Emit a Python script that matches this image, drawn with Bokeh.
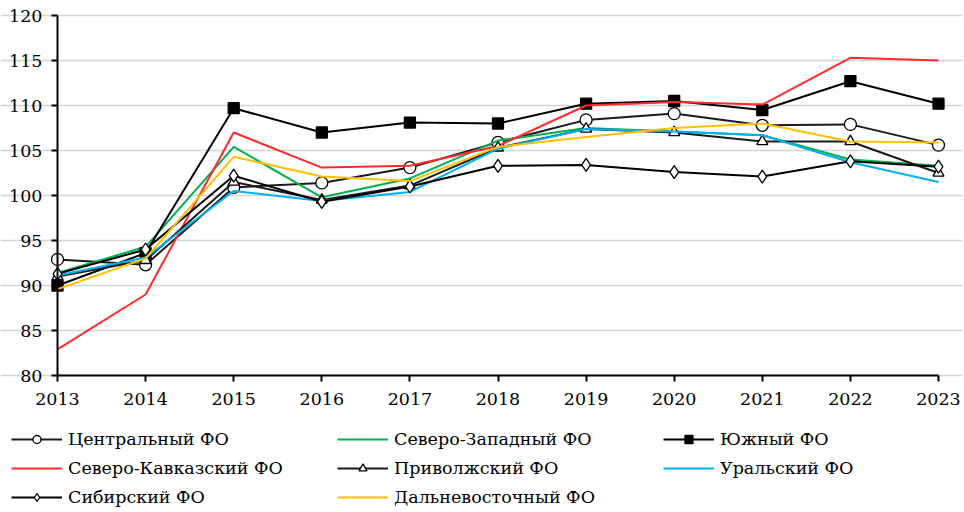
from bokeh.plotting import figure
from bokeh.models import (Legend, LegendItem, FixedTicker, Range1d, LinearAxis,
                          Grid)
from bokeh.embed import file_html
from bokeh.resources import INLINE

years = [2013, 2014, 2015, 2016, 2017, 2018, 2019, 2020, 2021, 2022, 2023]
y_ticks = [80, 85, 90, 95, 100, 105, 110, 115, 120]

central = [92.9, 92.3, 100.9, 101.4, 103.1, 105.9, 108.4, 109.1, 107.8, 107.9, 105.6]
northwest = [91.4, 94.3, 105.4, 99.8, 101.9, 106.1, 107.5, 107.1, 106.7, 104.0, 103.3]
south = [90.0, 93.6, 109.7, 107.0, 108.1, 108.0, 110.2, 110.5, 109.5, 112.7, 110.2]
ncaucasus = [82.9, 89.0, 107.0, 103.1, 103.3, 105.5, 110.0, 110.4, 110.1, 115.3, 115.0]
volga = [91.0, 92.8, 101.5, 99.5, 101.1, 105.3, 107.4, 107.0, 106.0, 106.0, 102.5]
ural = [91.1, 93.1, 100.5, 99.4, 100.4, 105.2, 107.4, 107.1, 106.7, 103.7, 101.5]
siberia = [91.3, 94.0, 102.2, 99.3, 101.0, 103.3, 103.4, 102.6, 102.1, 103.8, 103.2]
fareast = [89.6, 93.0, 104.3, 102.1, 101.6, 105.4, 106.5, 107.5, 108.0, 106.0, 105.9]

names = ["Центральный ФО", "Северо-Западный ФО", "Южный ФО",
         "Северо-Кавказский ФО", "Приволжский ФО", "Уральский ФО",
         "Сибирский ФО", "Дальневосточный ФО"]

FONT = "DejaVu Serif"
FSIZE = "17.5px"

# canvas layout (pixels)
W, H = 962, 510
PX_L, PX_R, PX_T, PX_B = 57, 938, 15, 375
x0, x1 = years[0], years[-1]
y0, y1 = y_ticks[0], y_ticks[-1]
sx = (PX_R - PX_L) / (x1 - x0)
sy = (PX_B - PX_T) / (y1 - y0)

p = figure(width=W, height=H, output_backend="svg", toolbar_location=None,
           x_range=Range1d(x0 - PX_L / sx, x1 + (W - PX_R) / sx),
           y_range=Range1d(y0 - (H - PX_B) / sy, y1 + PX_T / sy),
           x_axis_location=None, y_axis_location=None,
           min_border_left=0, min_border_right=0, min_border_top=0,
           min_border_bottom=0)
p.outline_line_color = None
for g in list(p.center):
    if isinstance(g, Grid):
        g.visible = False

grid = Grid(dimension=1, ticker=FixedTicker(ticks=y_ticks), bounds=(x0, x1),
            grid_line_color="#d4d4d4", grid_line_width=1.5)
p.add_layout(grid, "center")

yaxis = LinearAxis(fixed_location=x0, bounds=(y0, y1),
                   ticker=FixedTicker(ticks=y_ticks))
xaxis = LinearAxis(fixed_location=y0, bounds=(x0, x1),
                   ticker=FixedTicker(ticks=years))
for ax in (xaxis, yaxis):
    ax.axis_line_color = "black"
    ax.axis_line_width = 2
    ax.major_tick_line_color = "black"
    ax.major_tick_line_width = 2
    ax.major_tick_out = 6
    ax.major_tick_in = 0
    ax.minor_tick_line_color = None
    ax.major_label_text_font = FONT
    ax.major_label_text_font_size = FSIZE
    ax.major_label_text_color = "black"
xaxis.major_label_standoff = 11
yaxis.major_label_standoff = 9
p.add_layout(yaxis, "left")
p.add_layout(xaxis, "below")

series = [
    (central, "#1a1a1a", "circle", "white", 12),
    (northwest, "#00B050", None, None, 0),
    (south, "black", "square", "black", 11),
    (ncaucasus, "#FF2A2A", None, None, 0),
    (volga, "#1a1a1a", "triangle", "white", 11),
    (ural, "#00B0F0", None, None, 0),
    (siberia, "black", "diamond", "white", 13),
    (fareast, "#FFC000", None, None, 0),
]

items = []
for (vals, color, marker, fill, size), name in zip(series, names):
    rs = [p.line(years, vals, line_color=color, line_width=2)]
    if marker:
        rs.append(p.scatter(years, vals, marker=marker, size=size,
                            fill_color=fill, line_color="black", line_width=1.3))
    items.append(LegendItem(label=name, renderers=rs))

legend = Legend(items=items, orientation="horizontal", ncols=3,
                location=(11, 3),
                glyph_width=51, glyph_height=20, label_height=20,
                label_width=260, label_standoff=6, spacing=9,
                padding=0, margin=0,
                label_text_font=FONT, label_text_font_size=FSIZE,
                label_text_color="black",
                background_fill_alpha=0, border_line_color=None)
p.add_layout(legend, "center")

open("out.html", "w").write(file_html(p, INLINE))
